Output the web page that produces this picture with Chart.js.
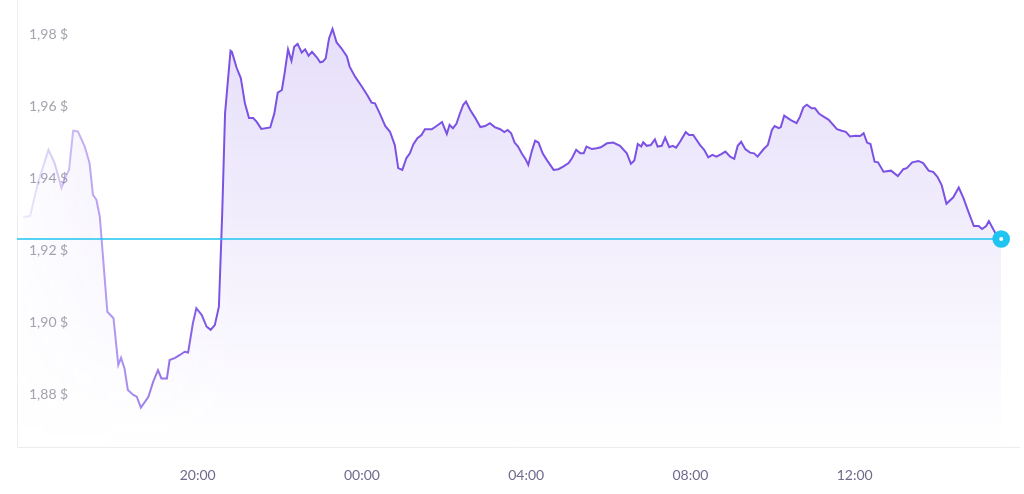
<!DOCTYPE html>
<html>
<head>
<meta charset="utf-8">
<script src="https://cdn.jsdelivr.net/npm/chart.js@4"></script>
<style>
  html, body { margin: 0; padding: 0; background: #fff; }
  #wrap { width: 1024px; height: 494px; }
</style>
</head>
<body>
<div id="wrap"><canvas id="priceChart"></canvas></div>
<script>
// price samples (local time, the series runs over midnight)
const times = [
  '15:45','15:55','16:07','16:22','16:31','16:41','16:46','16:52','16:58','17:05',
  '17:15','17:22','17:27','17:32','17:37','17:42','17:48','17:57','18:04','18:08',
  '18:13','18:18','18:26','18:31','18:37','18:48','18:55','19:02','19:07','19:15',
  '19:19','19:27','19:34','19:41','19:46','19:53','19:58','20:06','20:13','20:19',
  '20:25','20:31','20:36','20:40','20:48','20:50','20:57','21:03','21:09','21:15',
  '21:21','21:26','21:33','21:46','21:52','21:57','22:03','22:07','22:12','22:17',
  '22:21','22:26','22:32','22:37','22:42','22:47','22:54','22:59','23:03','23:07',
  '23:12','23:17','23:23','23:30','23:38','23:42','23:50','00:00','00:09','00:14',
  '00:19','00:26','00:34','00:41','00:48','00:53','00:59','01:05','01:10','01:15',
  '01:21','01:27','01:32','01:42','01:49','01:57','02:04','02:08','02:13','02:18',
  '02:23','02:28','02:32','02:38','02:45','02:53','03:00','03:07','03:14','03:22',
  '03:28','03:33','03:38','03:43','03:48','03:54','03:59','04:03','04:08','04:13',
  '04:18','04:24','04:30','04:35','04:40','04:47','04:54','05:02','05:07','05:13',
  '05:19','05:24','05:28','05:36','05:43','05:49','05:58','06:07','06:17','06:27',
  '06:33','06:38','06:43','06:48','06:51','06:56','07:02','07:08','07:12','07:18',
  '07:23','07:29','07:34','07:39','07:45','07:53','07:58','08:04','08:14','08:20',
  '08:26','08:32','08:38','08:45','08:51','08:58','09:04','09:09','09:14','09:20',
  '09:27','09:33','09:38','09:47','09:53','09:59','10:03','10:09','10:12','10:17',
  '10:26','10:35','10:40','10:45','10:50','10:57','11:02','11:08','11:22','11:34',
  '11:41','11:47','11:53','12:01','12:08','12:13','12:18','12:23','12:29','12:34',
  '12:42','12:53','13:03','13:11','13:16','13:24','13:33','13:40','13:48','13:55',
  '14:01','14:07','14:14','14:24','14:32','14:39','14:46','14:54','15:01','15:06',
  '15:12','15:16','15:23','15:30','15:34'
];

const prices = [
  1.9294,1.9297,1.9392,1.9481,1.9444,1.9375,1.9403,1.9425,1.9534,1.9532,
  1.9490,1.9444,1.9356,1.9342,1.9295,1.9175,1.9031,1.9013,1.8883,1.8903,
  1.8874,1.8814,1.8800,1.8795,1.8765,1.8795,1.8837,1.8869,1.8846,1.8846,
  1.8897,1.8903,1.8911,1.8920,1.8918,1.8999,1.9041,1.9022,1.8990,1.8981,
  1.8994,1.9045,1.9314,1.9583,1.9756,1.9753,1.9708,1.9680,1.9610,1.9569,
  1.9569,1.9559,1.9539,1.9543,1.9582,1.9640,1.9647,1.9694,1.9760,1.9728,
  1.9767,1.9775,1.9751,1.9760,1.9742,1.9753,1.9738,1.9724,1.9726,1.9735,
  1.9791,1.9817,1.9779,1.9763,1.9740,1.9712,1.9684,1.9656,1.9629,1.9612,
  1.9610,1.9582,1.9547,1.9531,1.9494,1.9430,1.9425,1.9458,1.9471,1.9496,
  1.9513,1.9522,1.9538,1.9538,1.9547,1.9558,1.9525,1.9550,1.9541,1.9553,
  1.9581,1.9606,1.9615,1.9592,1.9571,1.9544,1.9547,1.9555,1.9544,1.9538,
  1.9530,1.9536,1.9527,1.9501,1.9490,1.9469,1.9455,1.9439,1.9476,1.9506,
  1.9501,1.9471,1.9453,1.9439,1.9425,1.9427,1.9434,1.9444,1.9458,1.9481,
  1.9471,1.9471,1.9490,1.9483,1.9485,1.9488,1.9499,1.9501,1.9492,1.9471,
  1.9442,1.9451,1.9497,1.9490,1.9502,1.9492,1.9494,1.9510,1.9490,1.9492,
  1.9515,1.9488,1.9492,1.9487,1.9504,1.9530,1.9522,1.9522,1.9494,1.9481,
  1.9460,1.9467,1.9462,1.9469,1.9476,1.9462,1.9456,1.9492,1.9503,1.9483,
  1.9473,1.9471,1.9462,1.9483,1.9494,1.9536,1.9547,1.9541,1.9544,1.9576,
  1.9564,1.9555,1.9573,1.9599,1.9606,1.9596,1.9596,1.9581,1.9564,1.9538,
  1.9534,1.9531,1.9518,1.9520,1.9519,1.9527,1.9501,1.9497,1.9448,1.9446,
  1.9420,1.9423,1.9408,1.9427,1.9430,1.9446,1.9450,1.9444,1.9423,1.9419,
  1.9405,1.9383,1.9331,1.9349,1.9376,1.9346,1.9309,1.9269,1.9269,1.9261,
  1.9269,1.9283,1.9258,1.9235,1.9233
];

const hourTicks = ['20:00', '00:00', '04:00', '08:00', '12:00'];
const priceTicks = [1.88, 1.90, 1.92, 1.94, 1.96, 1.98];

const purple = 'rgba(123, 82, 227, ALPHA)';
const cyan = '#1fc4f1';

function clock(t) {
  const [h, m] = t.split(':').map(Number);
  return h * 60 + m;
}
const startMin = clock(times[0]);
// times earlier than the first sample belong to the next day
function toMinutes(t) {
  const m = clock(t);
  return m < startMin ? m + 1440 : m;
}
function fmtTime(v) {
  const m = ((v % 1440) + 1440) % 1440;
  return String(Math.floor(m / 60)).padStart(2, '0') + ':' + String(m % 60).padStart(2, '0');
}

const points = times.map((t, i) => ({ x: toMinutes(t), y: prices[i] }));
const lastPoint = points[points.length - 1];

const xMin = points[0].x - 9;
const xMax = lastPoint.x + 26;
const yMin = 1.8654;
const yMax = 1.9897;

const lastLine = [{ x: xMin, y: lastPoint.y }, { x: lastPoint.x, y: lastPoint.y }];

function col(a) { return purple.replace('ALPHA', a); }

// line fades in from the left
function lineColor(ctx) {
  const chart = ctx.chart;
  const area = chart.chartArea;
  if (!area) return col(1);
  const g = chart.ctx.createLinearGradient(area.left, 0, area.left + 200, 0);
  g.addColorStop(0, col(0.08));
  g.addColorStop(0.42, col(0.55));
  g.addColorStop(1, col(1));
  return g;
}

// area fill: vertical fade, also faded on the left side
function fillColor(ctx) {
  const chart = ctx.chart;
  const area = chart.chartArea;
  if (!area) return col(0.1);
  const c = document.createElement('canvas');
  c.width = chart.width;
  c.height = chart.height;
  const g = c.getContext('2d');
  const v = g.createLinearGradient(0, area.top, 0, area.bottom);
  v.addColorStop(0, col(0.2));
  v.addColorStop(0.5, col(0.1));
  v.addColorStop(1, col(0));
  g.fillStyle = v;
  g.fillRect(0, 0, c.width, c.height);
  g.globalCompositeOperation = 'destination-in';
  const h = g.createLinearGradient(area.left, 0, area.left + 220, 0);
  h.addColorStop(0, 'rgba(0,0,0,0.15)');
  h.addColorStop(1, 'rgba(0,0,0,1)');
  g.fillStyle = h;
  g.fillRect(0, 0, c.width, c.height);
  return chart.ctx.createPattern(c, 'no-repeat');
}

function noPad(s) {
  s.paddingTop = 0;
  s.paddingBottom = 0;
  s.paddingLeft = 0;
  s.paddingRight = 0;
}

const chartCtx = document.getElementById('priceChart').getContext('2d');
new Chart(chartCtx, {
  type: 'line',
  data: {
    datasets: [{
      label: 'Last price',
      data: lastLine,
      borderColor: cyan,
      borderWidth: 1.5,
      fill: false,
      pointRadius: ctx => ctx.dataIndex === 1 ? 5.4 : 0,
      pointBackgroundColor: '#ffffff',
      pointBorderColor: cyan,
      pointBorderWidth: 6.8,
      clip: false
    }, {
      label: 'Price',
      data: points,
      borderColor: lineColor,
      backgroundColor: fillColor,
      borderWidth: 2,
      fill: 'start',
      pointRadius: 0,
      tension: 0
    }]
  },
  options: {
    responsive: true,
    maintainAspectRatio: false,
    animation: false,
    layout: { autoPadding: false, padding: { right: 5 } },
    plugins: {
      legend: { display: false },
      tooltip: { enabled: false }
    },
    scales: {
      x: {
        type: 'linear',
        min: xMin,
        max: xMax,
        afterBuildTicks: s => { s.ticks = hourTicks.map(t => ({ value: toMinutes(t) })); },
        afterFit: s => { s.height = 46.5; noPad(s); },
        grid: { display: false, drawTicks: false },
        border: { display: true, color: '#ececf1' },
        ticks: {
          padding: 20,
          maxRotation: 0,
          autoSkip: false,
          color: '#6f6b8d',
          font: { family: 'Lato', size: 14 },
          callback: v => fmtTime(v)
        }
      },
      y: {
        min: yMin,
        max: yMax,
        afterBuildTicks: s => { s.ticks = priceTicks.map(v => ({ value: v })); },
        afterFit: s => { s.width = 17; noPad(s); },
        grid: { display: false, drawTicks: false },
        border: { display: true, color: '#ececf1' },
        ticks: {
          mirror: true,
          padding: 12,
          color: '#a3a3ad',
          font: { family: 'Lato', size: 14 },
          callback: v => v.toFixed(2).replace('.', ',') + ' $'
        }
      }
    }
  }
});
</script>
</body>
</html>
